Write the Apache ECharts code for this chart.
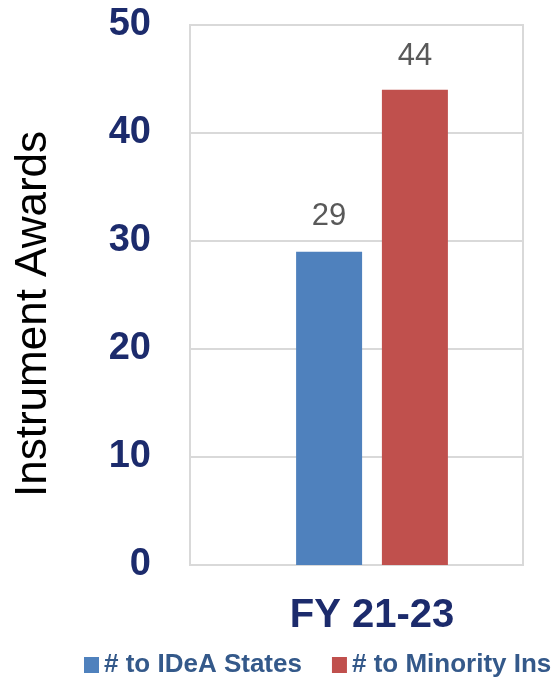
<!DOCTYPE html>
<html>
<head>
<meta charset="utf-8">
<script src="https://cdn.jsdelivr.net/npm/echarts@6/dist/echarts.min.js"></script>
<style>
  html, body { margin: 0; padding: 0; background: #fff; }
  #chart { width: 554px; height: 678px; }
</style>
</head>
<body>
<div id="chart"></div>
<script>
var categories = ['FY 21-23'];
var seriesNames = ['# to IDeA States', '# to Minority Ins'];
var ideaStates = [29];
var minorityIns = [44];
var yTicks = { min: 0, max: 50, interval: 10 };

var navy = '#1c2b6c';
var gridColor = '#d9d9d9';

var chart = echarts.init(document.getElementById('chart'));
chart.setOption({
  animation: false,
  grid: [
    // box with gridlines and y labels
    { left: 190, top: 25, width: 333, height: 540, show: true, borderColor: gridColor, borderWidth: 2 },
    // bars (offset so the pair sits right of the box centre)
    { left: 190, top: 25, width: 366, height: 540 }
  ],
  xAxis: [
    { gridIndex: 0, type: 'category', data: categories, show: false },
    {
      gridIndex: 1, type: 'category', data: categories,
      axisLine: { show: false }, axisTick: { show: false },
      axisLabel: { fontSize: 40, fontWeight: 'bold', color: navy, margin: 31, fontFamily: 'Liberation Sans' }
    }
  ],
  yAxis: [
    {
      gridIndex: 0, type: 'value', min: yTicks.min, max: yTicks.max, interval: yTicks.interval,
      axisLine: { show: false }, axisTick: { show: false },
      axisLabel: { fontSize: 38, fontWeight: 'bold', color: navy, margin: 39, fontFamily: 'Liberation Sans' },
      splitLine: { lineStyle: { color: gridColor, width: 2 } }
    },
    { gridIndex: 1, type: 'value', min: yTicks.min, max: yTicks.max, show: false }
  ],
  legend: {
    left: 79, top: 647, width: 700,
    itemWidth: 15, itemHeight: 16, itemGap: 30,
    icon: 'rect',
    textStyle: { fontSize: 26, fontWeight: 'bold', color: '#34598a', fontFamily: 'Liberation Sans' },
    data: seriesNames
  },
  graphic: [{
    type: 'text',
    x: 34, y: 314,
    rotation: Math.PI / 2,
    style: {
      text: 'Instrument Awards',
      fontSize: 44, fontFamily: 'Liberation Sans', fill: '#000',
      align: 'center', verticalAlign: 'middle'
    }
  }],
  series: [
    {
      name: seriesNames[0], type: 'bar', xAxisIndex: 1, yAxisIndex: 1,
      data: ideaStates, barWidth: 66, barGap: '30%',
      itemStyle: { color: '#4f81bd' },
      label: { show: true, position: 'top', distance: 20, fontSize: 31, color: '#595959', fontFamily: 'Liberation Sans' }
    },
    {
      name: seriesNames[1], type: 'bar', xAxisIndex: 1, yAxisIndex: 1,
      data: minorityIns, barWidth: 66, barGap: '30%',
      itemStyle: { color: '#c0504d' },
      label: { show: true, position: 'top', distance: 18, fontSize: 31, color: '#595959', fontFamily: 'Liberation Sans' }
    }
  ]
});
</script>
</body>
</html>
